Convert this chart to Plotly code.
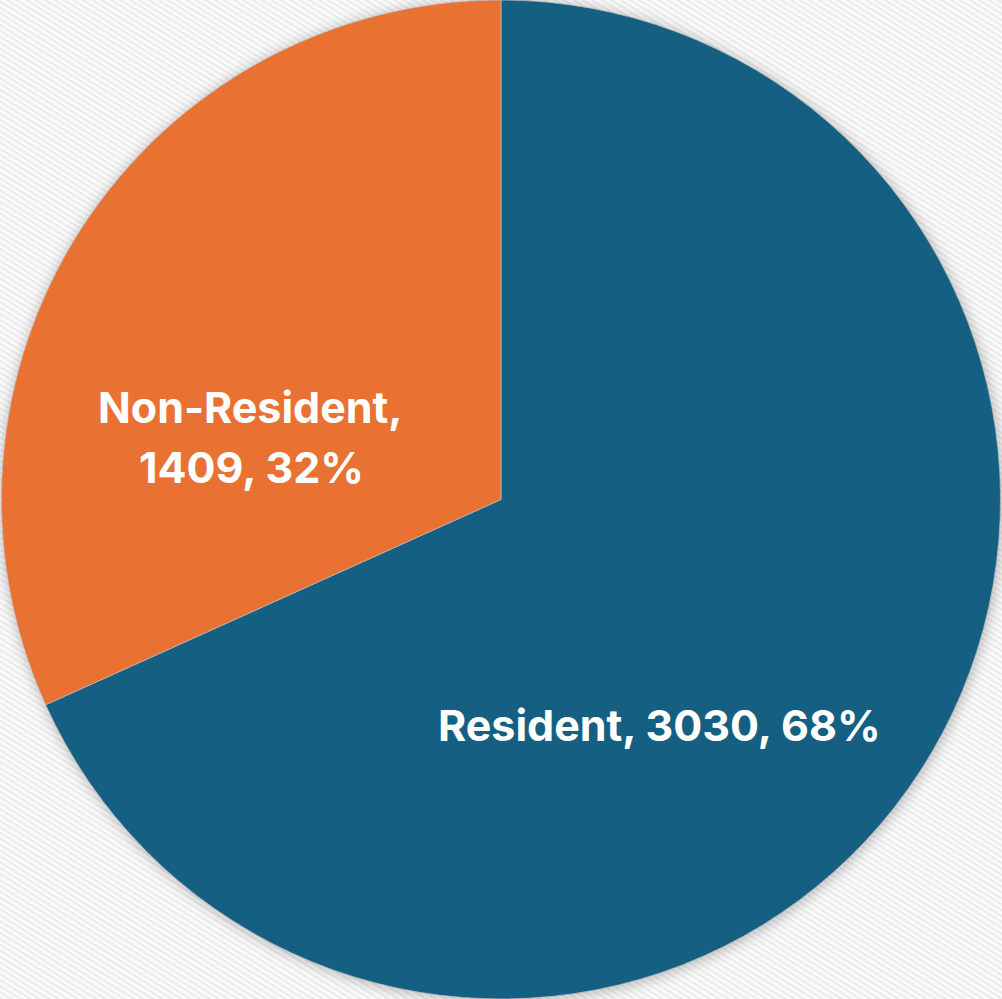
import plotly.graph_objects as go
import base64

labels = ["Resident", "Non-Resident"]
values = [3030, 1409]
colors = ["#156082", "#E97132"]

total = sum(values)
pct = [round(100 * v / total) for v in values]

# label line centres in pixels (layout, not data)
W, H = 1002, 999
label_lines = [
    (f"{labels[0]}, {values[0]}, {pct[0]}%", 659, 725),
    (f"{labels[1]},", 250, 407),
    (f"{values[1]}, {pct[1]}%", 251, 467),
]

svg = f'''<svg xmlns="http://www.w3.org/2000/svg" width="{W}" height="{H}">
<defs><pattern id="p" width="5" height="5" patternUnits="userSpaceOnUse" patternTransform="rotate(32)">
<rect width="5" height="5" fill="#fbfbfb"/><rect width="5" height="2.2" fill="#ebebeb"/></pattern>
<filter id="b" x="-20%" y="-20%" width="140%" height="140%"><feGaussianBlur stdDeviation="6"/></filter></defs>
<rect width="{W}" height="{H}" fill="url(#p)"/>
<circle cx="502" cy="501" r="502" fill="#000" fill-opacity="0.22" filter="url(#b)"/></svg>'''
uri = "data:image/svg+xml;base64," + base64.b64encode(svg.encode()).decode()

fig = go.Figure(go.Pie(
    labels=labels, values=values, sort=False, direction="clockwise", rotation=0,
    marker=dict(colors=colors, line=dict(color="rgba(190,190,190,0.7)", width=1)),
    textinfo="none", hoverinfo="label+value+percent",
    hole=0, showlegend=False,
))
fig.update_layout(
    width=W, height=H, margin=dict(l=0, r=0, t=0, b=0),
    paper_bgcolor="#f3f3f3",
    images=[dict(source=uri, xref="paper", yref="paper", x=0, y=1, sizex=1, sizey=1,
                 xanchor="left", yanchor="top", sizing="stretch", layer="below")],
    annotations=[dict(text=t, x=x / W, y=1 - y / H, xref="paper", yref="paper",
                      xanchor="center", yanchor="middle", showarrow=False,
                      font=dict(family="Inter, Liberation Sans, sans-serif", size=43,
                                color="white", weight="bold"))
                 for t, x, y in label_lines],
)
fig.write_html("out.html", config={"displayModeBar": False})
with open("out.html", encoding="utf-8") as f:
    html = f.read()
html = html.replace("<body>", '<body style="margin:0;overflow:hidden">', 1)
with open("out.html", "w", encoding="utf-8") as f:
    f.write(html)
